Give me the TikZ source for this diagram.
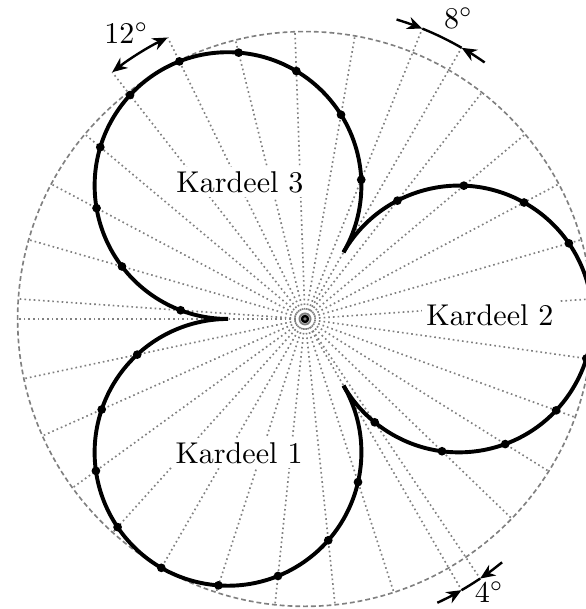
\documentclass[tikz,border=0pt]{standalone}
\usepackage{tikz}
\usetikzlibrary{arrows.meta}

\begin{document}
\begin{tikzpicture}[
>={Stealth[length=5pt, width=4.2pt, inset=1.6pt]},
ray/.style={gray, densely dotted, line width=0.55pt},
rim/.style={gray, dash pattern=on 1.6pt off 1pt, line width=0.55pt},
lobe/.style={line width=1.3pt},
dimarrow/.style={thick},
kardeel/.style={fill=white, inner sep=1.5pt},
every node/.style={inner sep=1pt}
]
\useasboundingbox (-3.565,-3.390) rectangle (3.284,3.728);

\pgfmathsetmacro\lobedist{1.8}
\pgfmathsetmacro\loberad{1.8*sin(60)}
\pgfmathsetmacro\rimrad{\lobedist+\loberad}
\pgfmathsetmacro\markrad{3.66}

\draw[rim] (0,0) circle (\rimrad);

\foreach \ang in {180,80,92,104,140,152,164,176,-44,-32,-20,-8,4,16,28,40,52,192,204,...,288}
  \draw[ray] (0,0) -- (\ang:\rimrad);
\foreach \ang in {60,-60,68,-56,116,128}
  \draw[ray] (0,0) -- (\ang:\markrad);

\node[kardeel] (kardeel3) at (-0.760,1.601) {Kardeel 3};
\node[kardeel] (kardeel2) at (2.162,0.047) {Kardeel 2};
\node[kardeel] (kardeel1) at (-0.771,-1.566) {Kardeel 1};

\foreach \ang in {0,120,240}
  \draw[lobe] ({\ang+60}:0.9) arc[start angle=\ang+150, end angle=\ang-150, radius=\loberad];

\foreach \ang in {68,80,...,176}
  \fill ({\ang}:{\lobedist*(cos(\ang-120)+sqrt(0.75-pow(sin(\ang-120),2)))}) circle (1.45pt);
\foreach \ang in {-56,-44,...,52}
  \fill ({\ang}:{\lobedist*(cos(\ang)+sqrt(0.75-pow(sin(\ang),2)))}) circle (1.45pt);
\foreach \ang in {192,204,...,288}
  \fill ({\ang}:{\lobedist*(cos(\ang-240)+sqrt(0.75-pow(sin(\ang-240),2)))}) circle (1.45pt);

\draw[line width=0.8pt] (0,0) circle (1pt);

\draw[dimarrow,<->] (128:\markrad) arc[start angle=128, end angle=116, radius=\markrad];
\node (angle12) at (122:3.94) {$12^\circ$};

\draw[dimarrow,->] (73:\markrad) arc[start angle=73, end angle=68, radius=\markrad];
\draw[dimarrow] (68:\markrad) arc[start angle=68, end angle=60, radius=\markrad];
\draw[dimarrow,->] (55:\markrad) arc[start angle=55, end angle=60, radius=\markrad];
\node (angle8) at (63:3.95) {$8^\circ$};

\draw[dimarrow,->] (-65:\markrad) arc[start angle=-65, end angle=-60, radius=\markrad];
\draw[dimarrow] (-60:\markrad) arc[start angle=-60, end angle=-56, radius=\markrad];
\draw[dimarrow,->] (-51:\markrad) arc[start angle=-51, end angle=-56, radius=\markrad];
\node (angle4) at (-56:3.85) {$4^\circ$};

\end{tikzpicture}
\end{document}
